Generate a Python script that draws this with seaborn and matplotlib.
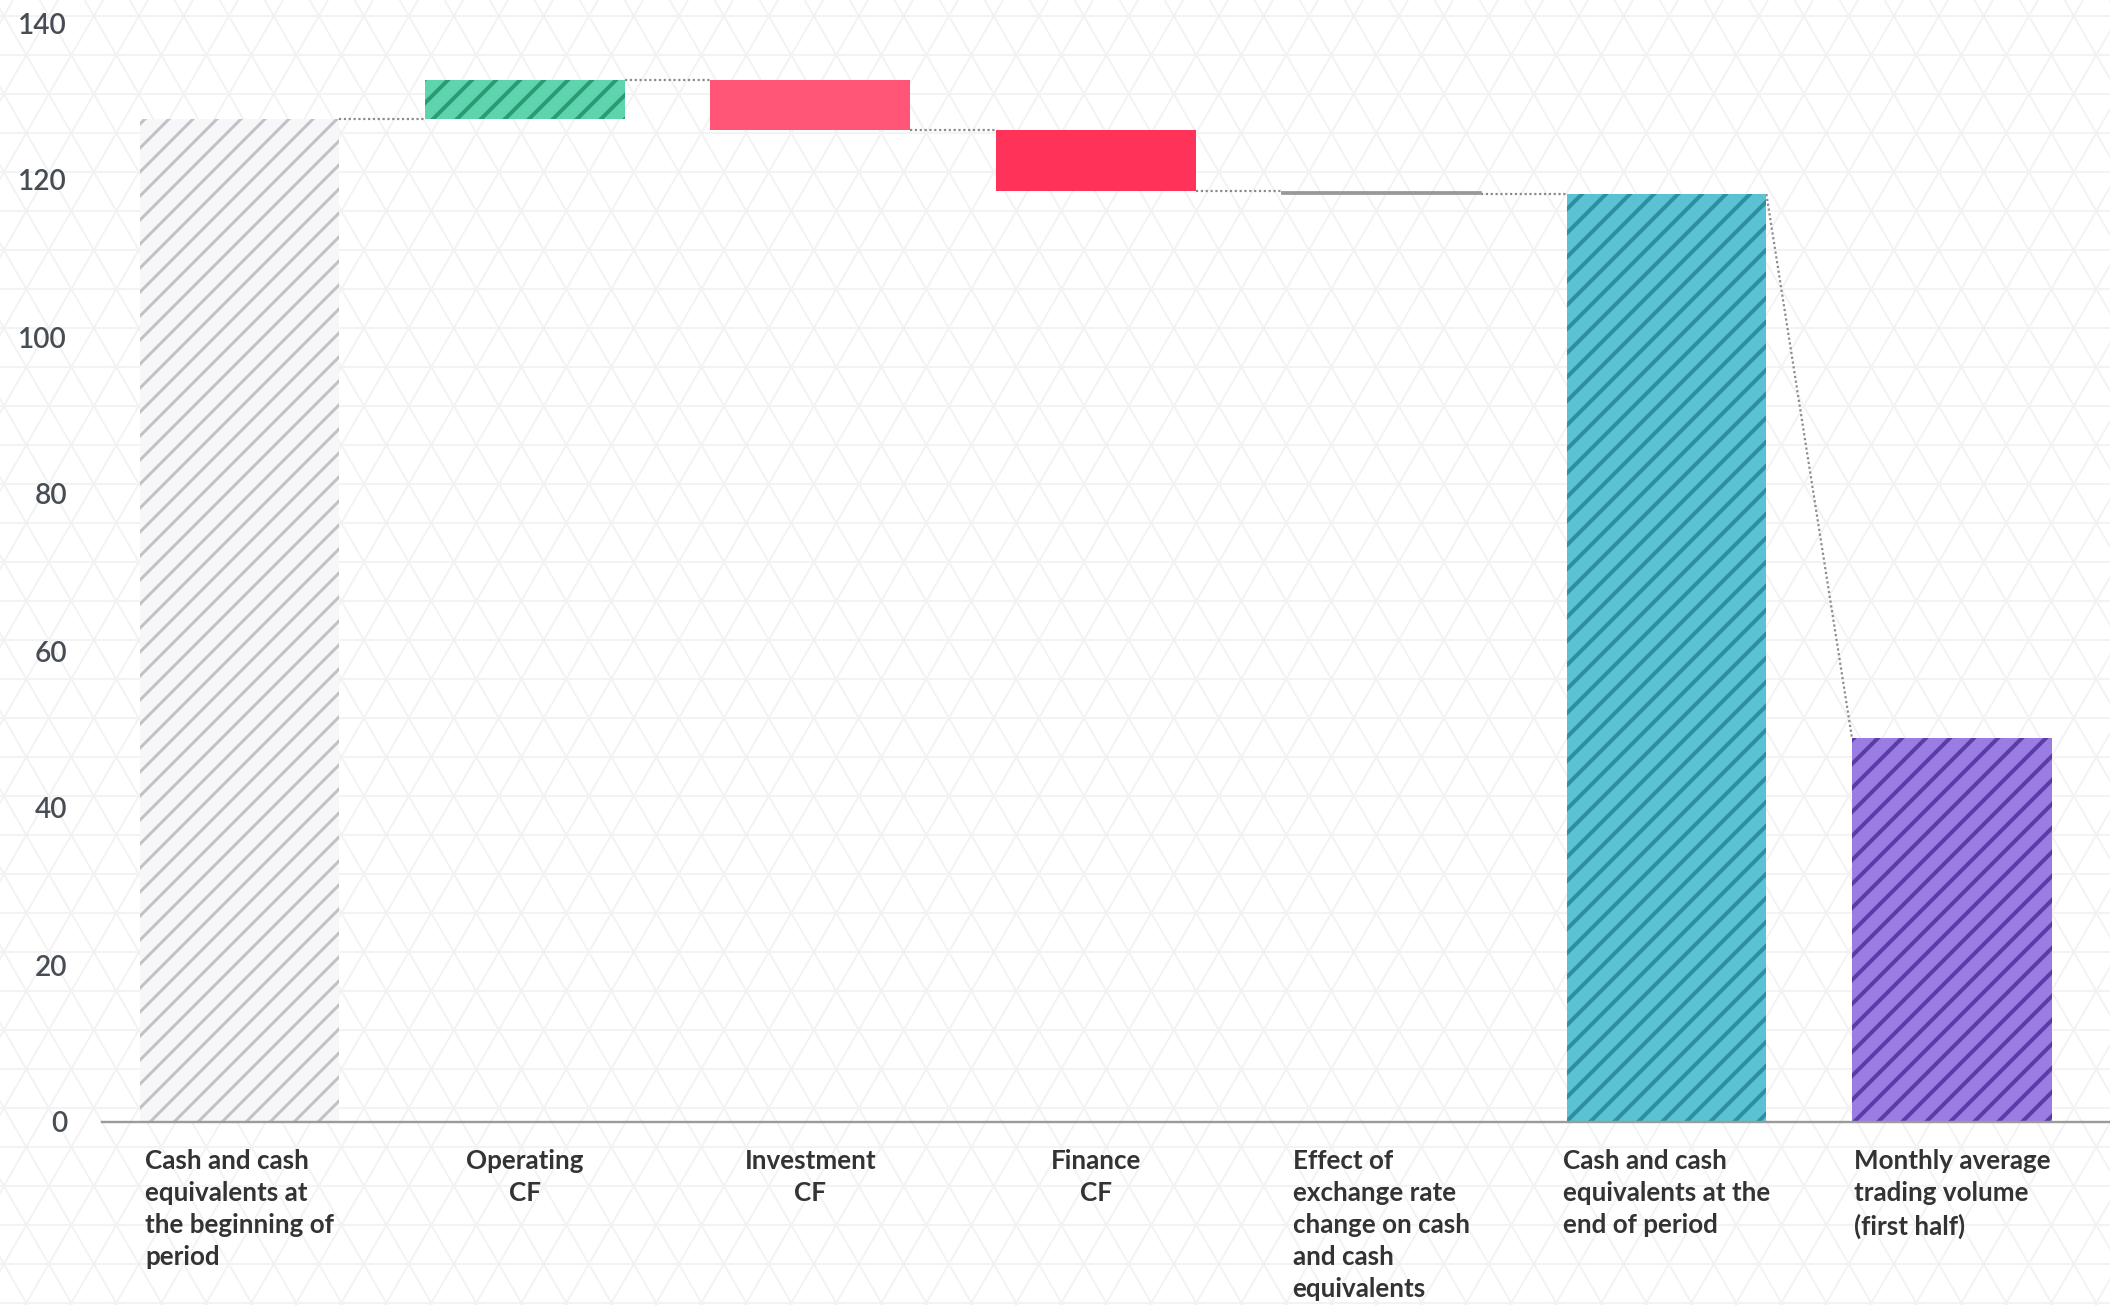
import numpy as np
import pandas as pd
import matplotlib
matplotlib.use("Agg")
import matplotlib.pyplot as plt
from matplotlib.collections import LineCollection
import seaborn as sns

# ---------------- data ----------------
categories = [
    "Cash and cash\nequivalents at\nthe beginning of\nperiod",
    "Operating\nCF",
    "Investment\nCF",
    "Finance\nCF",
    "Effect of\nexchange rate\nchange on cash\nand cash\nequivalents",
    "Cash and cash\nequivalents at the\nend of period",
    "Monthly average\ntrading volume\n(first half)",
]
# kind: 'total' bars start at 0, 'delta' bars float
kinds = ["total", "delta", "delta", "delta", "delta", "total", "total"]
values = [127.8, 4.9, -6.3, -7.8, -0.4, 118.2, 48.9]
label_align = ["left", "center", "center", "center", "left", "left", "left"]

fill_colors = ["#f7f7f9", "#5dd4ae", "#ff5678", "#ff325a", "#999999", "#5bc2d3", "#9b7ce3"]
hatch_colors = ["#c2c2c6", "#2b9b74", "#ff5678", "#ff325a", "#999999", "#2e8fa0", "#5b3ca8"]
hatches = ["/", "/", "", "", "", "/", "/"]
yticks = [0, 20, 40, 60, 80, 100, 120, 140]

# ------------- derived waterfall geometry -------------
bottoms, heights, ends = [], [], []
running = 0.0
for k, v in zip(kinds, values):
    if k == "total":
        b, h = 0.0, v
        running = v
        end = v
    else:
        start = running
        running = running + v
        b, h = min(start, running), abs(v)
        end = running
    bottoms.append(b)
    heights.append(h)
    ends.append(end)

df = pd.DataFrame({"cat": categories, "height": heights})

# ---------------- figure ----------------
W, H, DPI = 2110, 1305, 72   # at 72 dpi one point == one pixel
sns.set_theme(style="white")
plt.rcParams["font.family"] = ["Lato", "DejaVu Sans"]
plt.rcParams["hatch.linewidth"] = 4.0

fig = plt.figure(figsize=(W / DPI, H / DPI), dpi=DPI, facecolor="white")

# background triangular lattice pattern (decorative)
bg = fig.add_axes([0, 0, 1, 1], zorder=-5)
bg.set_xlim(0, W)
bg.set_ylim(H, 0)
bg.axis("off")
segs = []
row_h, col_w = 39.0, 45.0
y0, x0 = 16.0, 36.7
for yk in np.arange(y0 - row_h, H + row_h, row_h):
    segs.append([(0, yk), (W, yk)])
slope = row_h / (col_w / 2)
span = H / slope
for c in np.arange(x0 - span - 2 * col_w, W + span + 2 * col_w, col_w):
    segs.append([(c - (406 + 50) / slope, -50), (c + (H + 50 - 406) / slope, H + 50)])
    segs.append([(c + (406 + 50) / slope, -50), (c - (H + 50 - 406) / slope, H + 50)])
bg.add_collection(LineCollection(segs, colors="#f2f2f2", linewidths=1.8))

ax = fig.add_axes([102 / W, 1 - 1122 / H, 1 - 102 / W, (1122 - 23) / H])
ax.set_facecolor("none")

sns.barplot(data=df, x="cat", y="height", hue="cat", palette=fill_colors,
            saturation=1, width=0.70, legend=False, errorbar=None, ax=ax)

for i, p in enumerate(ax.patches[:len(categories)]):
    p.set_y(bottoms[i])
    p.set_hatch(hatches[i])
    p.set_edgecolor(hatch_colors[i])
    p.set_linewidth(0.0)
    p.set_zorder(3)
ax.patches[4].set_linewidth(0.8)
if hasattr(ax.patches[0], "set_hatch_linewidth"):
    try:
        ax.patches[0].set_hatch_linewidth(3.0)
    except Exception:
        pass

# dotted connectors
half = 0.35
for i in range(len(categories) - 1):
    lvl = ends[i]
    nxt = values[i + 1] if i + 1 == len(categories) - 1 else lvl
    ax.plot([i + half, i + 1 - half], [lvl, nxt], ls=(0, (1, 1.2)),
            color="#8a8a8a", lw=2.2, zorder=2)

ax.set_xlim(-0.482, 6.554)
ax.set_ylim(0, 140)
ax.set_yticks(yticks)
ax.set_yticklabels([str(t) for t in yticks])
ax.set_xticks(range(len(categories)))
ax.set_xticklabels(categories)
ax.set_xlabel("")
ax.set_ylabel("")
ax.tick_params(axis="y", length=0, pad=35, labelsize=28, labelcolor="#474d55")
ax.tick_params(axis="x", length=0, pad=27, labelsize=26, labelcolor="#333333")
for lbl, al in zip(ax.get_xticklabels(), label_align):
    lbl.set_multialignment(al)
    lbl.set_ha("center")
    lbl.set_va("top")
    lbl.set_fontweight("bold")
    lbl.set_linespacing(1.4)
for lbl in ax.get_yticklabels():
    lbl.set_fontweight("semibold")

for s in ["left", "right", "top"]:
    ax.spines[s].set_visible(False)
ax.spines["bottom"].set_color("#9b9b9b")
ax.spines["bottom"].set_linewidth(2.4)
ax.spines["bottom"].set_zorder(4)
ax.grid(False)

fig.savefig("out.png", dpi=DPI, facecolor="white")
